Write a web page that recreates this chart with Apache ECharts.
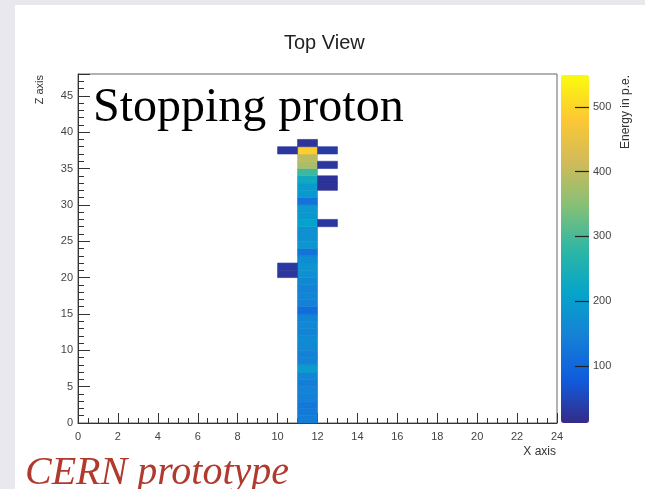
<!DOCTYPE html>
<html lang="en">
<head>
    <meta charset="UTF-8">
    <title>Top View</title>
    <style>html, body { margin: 0; padding: 0; background: #e8e8ee; }</style>
</head>
<body>
<div id='main' style="height: 489px;width: 645px"></div>
<script src="https://cdn.jsdelivr.net/npm/echarts@6/dist/echarts.min.js"></script>
<script>
    // main track: one column of hits at x bin 11-12
    var columnX = 11;
    var layerZ = [0, 1, 2, 3, 4, 5, 6, 7, 8, 9, 10, 11, 12, 13, 14, 15, 16, 17, 18, 19,
        20, 21, 22, 23, 24, 25, 26, 27, 28, 29, 30, 31, 32, 33, 34, 35, 36, 37, 38];
    var columnEnergy = [140, 135, 130, 145, 150, 140, 155, 200, 150, 145, 160, 165, 150, 160, 150, 110, 145, 155, 150, 160,
        175, 180, 170, 120, 185, 175, 175, 210, 190, 190, 120, 190, 195, 230, 290, 380, 395, 490, 25];

    // isolated hits next to the track
    var hitX = [10, 10, 10, 12, 12, 12, 12, 12];
    var hitZ = [37, 21, 20, 37, 35, 33, 32, 27];
    var hitEnergy = [30, 32, 28, 35, 30, 26, 24, 30];

    var energyTicks = [100, 200, 300, 400, 500];
    var energyMin = 12, energyMax = 549;

    // ROOT kBird palette
    var birdColors = ['#352a87', '#0f5cdd', '#1481d6', '#06a4ca', '#2eb7a4', '#87bf77', '#d1bb59', '#fec832', '#f9fb0e'];

    var bins = [];
    for (var i = 0; i < layerZ.length; i++) {
        bins.push([columnX, layerZ[i], columnEnergy[i]]);
    }
    for (var j = 0; j < hitX.length; j++) {
        bins.push([hitX[j], hitZ[j], hitEnergy[j]]);
    }

    function renderBin(params, api) {
        var p0 = api.coord([api.value(0), api.value(1) + 1]);
        var p1 = api.coord([api.value(0) + 1, api.value(1)]);
        var c = api.visual('color');
        return {
            type: 'rect',
            shape: {x: p0[0], y: p0[1], width: p1[0] - p0[0], height: p1[1] - p0[1]},
            style: {fill: c, stroke: c, lineWidth: 0.6}
        };
    }

    var sans = 'Liberation Sans';
    var myChart = echarts.init(document.getElementById('main'));
    var option = {
        backgroundColor: '#e8e8ee',
        animation: false,
        graphic: [
            {type: 'rect', z: -10, shape: {x: 15, y: 5, width: 630, height: 484}, style: {fill: '#ffffff'}},
            {type: 'text', left: 284, top: 33, style: {text: 'Top View', font: '20px "Liberation Sans"', fill: '#222'}},
            {type: 'text', x: 40, y: 75, rotation: Math.PI / 2, style: {text: 'Z axis', align: 'right', verticalAlign: 'middle', font: '11px "Liberation Sans"', fill: '#333'}},
            {type: 'text', x: 626, y: 75, rotation: Math.PI / 2, style: {text: 'Energy in p.e.', align: 'right', verticalAlign: 'middle', font: '12px "Liberation Sans"', fill: '#333'}},
            {type: 'text', x: 556, y: 452, style: {text: 'X axis', align: 'right', verticalAlign: 'middle', font: '12px "Liberation Sans"', fill: '#333'}},
            {type: 'text', z: 100, x: 93, y: 84, style: {text: 'Stopping proton', align: 'left', verticalAlign: 'top', font: '48px "Liberation Serif"', fill: '#000'}},
            {type: 'text', x: 25, y: 453, style: {text: 'CERN prototype', align: 'left', verticalAlign: 'top', font: 'italic 40px "Liberation Serif"', fill: '#b03a2e'}}
        ],
        grid: [
            {left: 78, top: 74, width: 479, height: 349, show: true, borderColor: '#666', borderWidth: 1, backgroundColor: '#fff'},
            {left: 561, top: 75, width: 28, height: 348}
        ],
        xAxis: [{
            gridIndex: 0, type: 'value', min: 0, max: 24, interval: 2,
            axisLine: {lineStyle: {color: '#333'}},
            axisTick: {inside: true, length: 10, lineStyle: {color: '#333'}},
            minorTick: {show: true, splitNumber: 4, length: 5, lineStyle: {color: '#333'}},
            axisLabel: {fontFamily: sans, fontSize: 11, color: '#444', margin: 8},
            splitLine: {show: false}
        }, {
            gridIndex: 1, type: 'value', min: 0, max: 1, show: false
        }],
        yAxis: [{
            gridIndex: 0, type: 'value', min: 0, max: 48, interval: 5,
            axisLine: {lineStyle: {color: '#333'}},
            axisTick: {inside: true, length: 12, lineStyle: {color: '#333'}},
            minorTick: {show: true, splitNumber: 5, length: 6, lineStyle: {color: '#333'}},
            axisLabel: {fontFamily: sans, fontSize: 11, color: '#444', margin: 5, showMaxLabel: false},
            splitLine: {show: false}
        }, {
            // colour bar scale
            gridIndex: 1, type: 'value', position: 'right', min: energyMin, max: energyMax, splitNumber: 5, z: 10,
            axisLine: {show: false, onZero: false},
            axisTick: {inside: true, length: 14, lineStyle: {color: '#222', width: 1.2}},
            axisLabel: {
                fontFamily: sans, fontSize: 11, color: '#444', margin: 4,
                showMinLabel: false, showMaxLabel: false,
                formatter: function (v) { return energyTicks.indexOf(v) >= 0 ? String(v) : ''; }
            },
            splitLine: {show: false}
        }],
        visualMap: {
            type: 'continuous', seriesIndex: 0, dimension: 2,
            min: energyMin, max: energyMax,
            inRange: {color: birdColors},
            orient: 'vertical', left: 561, top: 75, padding: 0,
            itemWidth: 28, itemHeight: 348, calculable: false, hoverLink: false
        },
        series: [{
            type: 'custom',
            xAxisIndex: 0, yAxisIndex: 0,
            renderItem: renderBin,
            encode: {x: 0, y: 1},
            data: bins
        }]
    };
    myChart.setOption(option);
</script>
</body>
</html>
